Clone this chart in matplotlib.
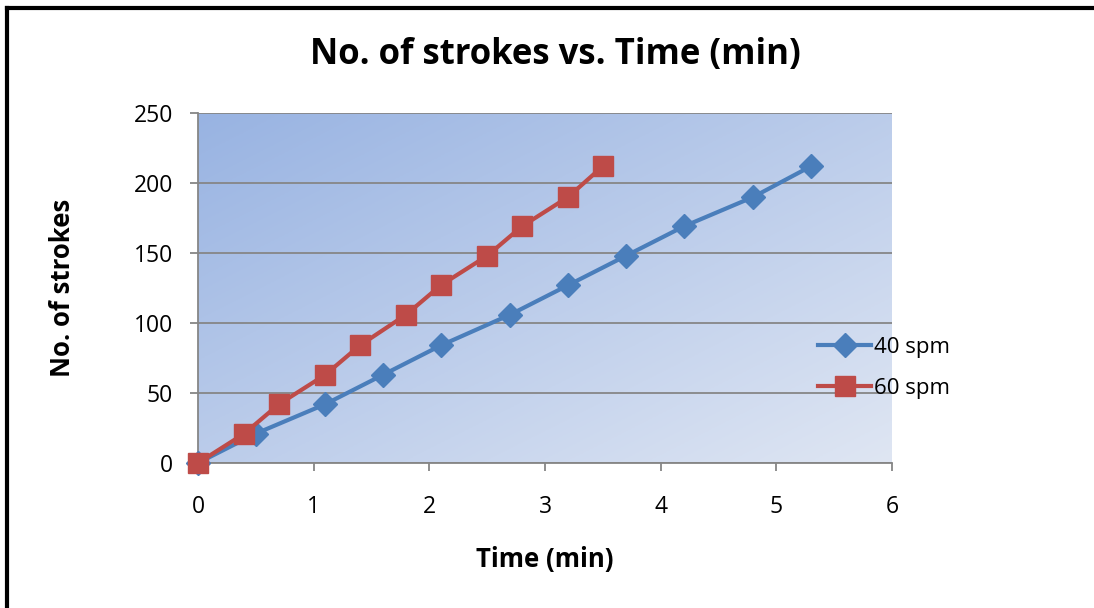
import numpy as np
import matplotlib
matplotlib.use('Agg')
import matplotlib.pyplot as plt
from matplotlib.lines import Line2D

strokes = [0, 21, 42, 63, 84, 106, 127, 148, 169, 190, 212]
time_40 = [0, 0.5, 1.1, 1.6, 2.1, 2.7, 3.2, 3.7, 4.2, 4.8, 5.3]
time_60 = [0, 0.4, 0.7, 1.1, 1.4, 1.8, 2.1, 2.5, 2.8, 3.2, 3.5]
series_names = ['40 spm', '60 spm']

plt.rcParams['font.family'] = ['Open Sans', 'DejaVu Sans']

W, H = 1094, 608
fig = plt.figure(figsize=(W / 100, H / 100), dpi=100)
ax = fig.add_axes([198/W, 1-463/H, (892-198)/W, (463-113)/H])

# gradient background of the plot area
c1 = np.array([0x98, 0xb3, 0xe2]) / 255.0
c2 = np.array([0xdf, 0xe6, 0xf3]) / 255.0
yy, xx = np.mgrid[0:1:200j, 0:1:200j]
t = (xx + yy) / 2
img = c1[None, None, :] * (1 - t[..., None]) + c2[None, None, :] * t[..., None]
ax.imshow(img, extent=[0, 1, 0, 1], transform=ax.transAxes, aspect='auto', zorder=0)

blue = '#4a7ebb'
red = '#be4b48'
ax.plot(time_40, strokes, color=blue, lw=3, marker='D', markersize=12, zorder=3, clip_on=False)
ax.plot(time_60, strokes, color=red, lw=3, marker='s', markersize=14, zorder=4, clip_on=False)

ax.set_xlim(0, 6)
ax.set_ylim(0, 250)
ax.set_xticks(range(0, 7))
ax.set_yticks(range(0, 251, 50))
ax.yaxis.grid(True, color='#868686', lw=1.3, zorder=1)
ax.set_axisbelow(True)
for s in ['top', 'right']:
    ax.spines[s].set_visible(False)
for s in ['left', 'bottom']:
    ax.spines[s].set_color('#868686')
    ax.spines[s].set_linewidth(1.3)
ax.tick_params(axis='both', direction='out', length=6, width=1.3, color='#868686',
               labelsize=16.5)
ax.tick_params(axis='x', pad=17)
ax.tick_params(axis='y', pad=12)

fig.text(545/W, 1-560/H, 'Time (min)', fontsize=18.5, fontweight='bold',
         ha='center', va='center')
fig.text(63/W, 1-288/H, 'No. of strokes', fontsize=18.5, fontweight='bold',
         ha='center', va='center', rotation=90)
fig.text(555/W, 1-55/H, 'No. of strokes vs. Time (min)', fontsize=25,
         fontweight='bold', ha='center', va='center')

handles = [Line2D([], [], color=blue, lw=3, marker='D', markersize=12),
           Line2D([], [], color=red, lw=3, marker='s', markersize=14)]
fig.legend(handles, series_names, loc='center left',
           bbox_to_anchor=(798/W, 1-368/H), frameon=False, fontsize=16,
           handlelength=2.4, handletextpad=0.1, labelspacing=0.9)

# outer frame (top and left edges)
fig.add_artist(Line2D([7/W, 1], [1-8/H, 1-8/H], color='black', lw=3,
                      transform=fig.transFigure))
fig.add_artist(Line2D([7/W, 7/W], [0, 1-8/H], color='black', lw=3,
                      transform=fig.transFigure))

fig.savefig('out.png', dpi=100)
